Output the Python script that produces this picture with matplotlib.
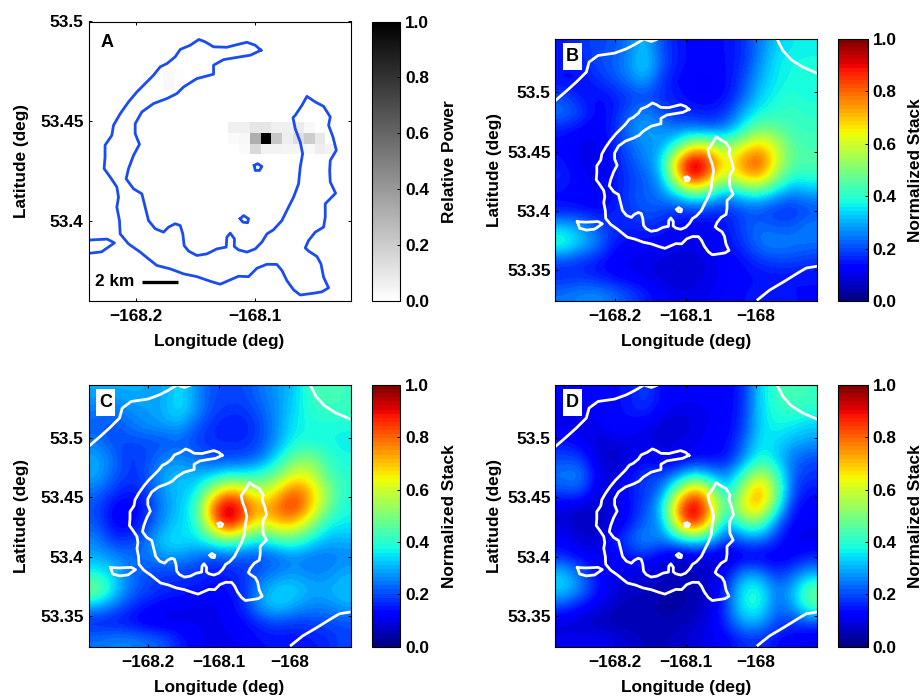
import matplotlib
matplotlib.use("Agg")
import matplotlib.pyplot as plt
from matplotlib.patches import Rectangle
import numpy as np

plt.rcParams['font.family'] = ['Liberation Sans', 'DejaVu Sans']
plt.rcParams['font.weight'] = 'bold'
plt.rcParams['font.size'] = 12.4

# caldera island outline
island_lon = [-168.0952, -168.1000, -168.1070, -168.1140, -168.1238, -168.1350, -168.1420, -168.1473, -168.1546,
              -168.1630, -168.1672, -168.1742, -168.1798, -168.1854, -168.1924, -168.1994, -168.2064, -168.2134,
              -168.2190, -168.2204, -168.2261, -168.2261, -168.2269, -168.2218, -168.2162, -168.2148, -168.2162,
              -168.2140, -168.2134, -168.2064, -168.1966, -168.1896, -168.1826, -168.1714, -168.1602, -168.1490,
              -168.1378, -168.1294, -168.1210, -168.1140, -168.1056, -168.0986, -168.0902, -168.0818, -168.0776,
              -168.0734, -168.0678, -168.0622, -168.0510, -168.0440, -168.0384, -168.0426, -168.0448, -168.0482,
              -168.0552, -168.0580, -168.0552, -168.0496, -168.0426, -168.0412, -168.0412, -168.0325, -168.0370,
              -168.0375, -168.0370, -168.0319, -168.0347, -168.0384, -168.0370, -168.0426, -168.0496, -168.0566,
              -168.0608, -168.0664, -168.0683, -168.0664, -168.0622, -168.0602, -168.0622, -168.0636, -168.0678,
              -168.0734, -168.0776, -168.0846, -168.0902, -168.0944, -168.1000, -168.1070, -168.1140, -168.1176,
              -168.1174, -168.1210, -168.1238, -168.1244, -168.1322, -168.1406, -168.1490, -168.1560, -168.1597,
              -168.1608, -168.1630, -168.1672, -168.1728, -168.1770, -168.1840, -168.1896, -168.1924, -168.1952,
              -168.2022, -168.2084, -168.2064, -168.2022, -168.1972, -168.2008, -168.2008, -168.1952, -168.1854,
              -168.1742, -168.1658, -168.1602, -168.1490, -168.1350, -168.1350, -168.1266, -168.1126, -168.1042,
              -168.0952]
island_lat = [53.4856, 53.4881, 53.4896, 53.4886, 53.4871, 53.4873, 53.4898, 53.4910, 53.4881,
              53.4860, 53.4823, 53.4789, 53.4773, 53.4731, 53.4689, 53.4647, 53.4597, 53.4538,
              53.4480, 53.4430, 53.4380, 53.4321, 53.4263, 53.4221, 53.4171, 53.4120, 53.4070,
              53.4003, 53.3936, 53.3886, 53.3845, 53.3811, 53.3778, 53.3761, 53.3736, 53.3722,
              53.3699, 53.3684, 53.3706, 53.3724, 53.3722, 53.3764, 53.3784, 53.3783, 53.3753,
              53.3702, 53.3656, 53.3630, 53.3639, 53.3646, 53.3666, 53.3719, 53.3786, 53.3823,
              53.3850, 53.3866, 53.3903, 53.3945, 53.3970, 53.4020, 53.4087, 53.4140, 53.4196,
              53.4254, 53.4304, 53.4355, 53.4421, 53.4480, 53.4522, 53.4575, 53.4597, 53.4625,
              53.4580, 53.4530, 53.4518, 53.4463, 53.4396, 53.4338, 53.4271, 53.4187, 53.4120,
              53.4054, 53.4003, 53.3957, 53.3936, 53.3895, 53.3861, 53.3845, 53.3856, 53.3873,
              53.3911, 53.3940, 53.3920, 53.3870, 53.3861, 53.3836, 53.3828, 53.3850, 53.3878,
              53.3936, 53.3978, 53.3987, 53.3970, 53.3945, 53.3962, 53.4003, 53.4070, 53.4137,
              53.4162, 53.4212, 53.4263, 53.4329, 53.4385, 53.4438, 53.4488, 53.4547, 53.4589,
              53.4614, 53.4639, 53.4672, 53.4714, 53.4736, 53.4781, 53.4809, 53.4823, 53.4831,
              53.4856]

# small pieces of coast
vent1_lon = [-168.1008, -168.0980, -168.0944, -168.0964, -168.1000, -168.1008]
vent1_lat = [53.4279, 53.4288, 53.4274, 53.4254, 53.4254, 53.4279]
vent2_lon = [-168.1126, -168.1098, -168.1056, -168.1064, -168.1104, -168.1126]
vent2_lat = [53.4012, 53.4028, 53.4012, 53.3992, 53.3995, 53.4012]
west_lon = [-168.2537, -168.2409, -168.2243, -168.2182, -168.2291, -168.2409, -168.2504, -168.2537]
west_lat = [53.3908, 53.3905, 53.3910, 53.3891, 53.3846, 53.3838, 53.3854, 53.3908]
nw_lon = [-168.2844, -168.2693, -168.2551, -168.2409, -168.2371, -168.2243, -168.2007, -168.1842, -168.1723, -168.1605]
nw_lat = [53.4933, 53.5011, 53.5087, 53.5171, 53.5255, 53.5311, 53.5331, 53.5367, 53.5403, 53.5445]
nbit_lon = [-168.1558, -168.1487, -168.1416]
nbit_lat = [53.5443, 53.5429, 53.5445]
ne_lon = [-167.9690, -167.9619, -167.9501, -167.9336, -167.9147]
ne_lat = [53.5437, 53.5353, 53.5275, 53.5213, 53.5165]
se_lon = [-167.9974, -167.9809, -167.9596, -167.9407, -167.9288, -167.9147]
se_lat = [53.3252, 53.3331, 53.3406, 53.3476, 53.3518, 53.3532]

# panel A cells, top row first
power_a = [
    [.01, .01, .02, .01, 0, 0, 0, 0, 0, 0, 0, 0, 0, 0, 0, 0, 0, 0],
    [0, 0, .03, .01, 0, 0, 0, 0, 0, 0, 0, 0, 0, 0, 0, 0, 0, 0],
    [0, 0, 0, 0, 0, 0, 0, 0, 0, 0, 0, 0, 0, 0, 0, 0, 0, 0],
    [0, 0, 0, 0, 0, 0, 0, 0, 0, 0, 0, 0, 0, 0, 0, 0, 0, 0],
    [0, 0, 0, 0, 0, 0, 0, 0, 0, 0, 0, 0, 0, 0, 0, 0, 0, 0],
    [0, 0, 0, 0, 0, 0, 0, 0, .06, .06, .1, .1, .06, .06, .08, .03, 0, 0],
    [0, 0, 0, 0, 0, 0, 0, 0, .02, .03, .32, 1.0, .22, .07, .13, .2, .09, 0],
    [0, 0, 0, 0, 0, 0, 0, 0, 0, .02, .15, .05, .05, .04, .04, .03, .07, .05],
]

stack_b = [
    [.15, .17, .2, .2, .25, .33, .2, .15, .13, .13, .14, .17, .25, .33, .36, .37],
    [.15, .15, .2, .22, .27, .36, .22, .15, .13, .13, .14, .17, .27, .36, .38, .38],
    [.13, .13, .17, .2, .25, .3, .18, .13, .12, .12, .13, .2, .3, .36, .38, .38],
    [.2, .15, .13, .15, .18, .2, .17, .15, .12, .12, .14, .22, .33, .38, .4, .38],
    [.25, .2, .13, .14, .22, .27, .2, .17, .16, .15, .18, .3, .38, .4, .42, .4],
    [.15, .13, .11, .16, .25, .3, .28, .24, .25, .22, .26, .38, .5, .47, .42, .42],
    [.13, .1, .1, .15, .22, .28, .27, .42, .64, .6, .5, .62, .7, .6, .45, .43],
    [.15, .1, .1, .14, .2, .25, .33, .78, 1.0, .85, .62, .78, .86, .62, .46, .45],
    [.17, .12, .1, .14, .18, .22, .28, .68, .95, .72, .55, .68, .72, .52, .38, .4],
    [.13, .12, .1, .13, .2, .22, .25, .33, .45, .38, .27, .35, .38, .3, .24, .28],
    [.15, .15, .13, .15, .18, .22, .2, .17, .17, .17, .16, .2, .2, .17, .17, .2],
    [.33, .3, .22, .18, .15, .17, .16, .13, .12, .12, .15, .2, .24, .22, .22, .26],
    [.42, .33, .27, .15, .13, .13, .12, .1, .1, .12, .14, .18, .25, .26, .25, .24],
    [.2, .18, .15, .12, .1, .1, .09, .08, .08, .1, .12, .14, .18, .2, .2, .18],
    [.16, .17, .15, .13, .11, .1, .08, .07, .08, .1, .12, .13, .14, .14, .14, .14],
    [.24, .26, .27, .24, .2, .16, .12, .1, .1, .11, .13, .14, .15, .15, .14, .14],
]

stack_c = [
    [.3, .3, .3, .3, .28, .36, .28, .2, .2, .2, .24, .28, .32, .42, .44, .42],
    [.25, .24, .27, .28, .3, .36, .28, .2, .18, .18, .22, .27, .34, .4, .42, .42],
    [.22, .2, .24, .27, .28, .3, .22, .17, .15, .15, .2, .27, .36, .38, .38, .38],
    [.25, .2, .2, .2, .2, .22, .19, .17, .17, .17, .2, .28, .38, .38, .38, .36],
    [.3, .24, .17, .2, .25, .27, .24, .2, .2, .2, .24, .36, .48, .52, .42, .38],
    [.3, .22, .18, .2, .3, .32, .3, .32, .38, .38, .42, .48, .62, .62, .45, .4],
    [.24, .18, .15, .18, .28, .32, .34, .58, .75, .68, .55, .68, .82, .72, .55, .4],
    [.2, .12, .1, .16, .26, .32, .4, .8, 1.0, .85, .72, .8, .88, .72, .5, .38],
    [.22, .12, .12, .18, .28, .34, .36, .7, .95, .75, .6, .7, .7, .55, .38, .36],
    [.26, .18, .18, .24, .34, .36, .34, .4, .48, .4, .35, .42, .44, .36, .3, .3],
    [.3, .27, .24, .24, .28, .28, .24, .2, .22, .2, .2, .22, .26, .24, .24, .26],
    [.38, .33, .24, .2, .18, .18, .18, .15, .15, .18, .22, .26, .28, .26, .26, .3],
    [.52, .36, .24, .2, .17, .16, .15, .13, .14, .18, .28, .34, .34, .3, .3, .32],
    [.3, .24, .18, .14, .12, .11, .1, .1, .12, .17, .3, .34, .3, .26, .26, .3],
    [.15, .14, .13, .1, .09, .1, .11, .1, .12, .13, .17, .2, .18, .19, .2, .2],
    [.24, .26, .26, .24, .22, .16, .12, .1, .1, .12, .14, .14, .14, .15, .16, .2],
]

stack_d = [
    [.12, .12, .13, .14, .14, .2, .13, .12, .12, .12, .12, .16, .34, .42, .44, .42],
    [.1, .1, .12, .13, .15, .18, .12, .1, .1, .11, .12, .17, .34, .4, .42, .4],
    [.1, .09, .1, .13, .13, .1, .08, .07, .1, .11, .12, .18, .34, .38, .36, .33],
    [.15, .12, .08, .08, .1, .1, .08, .1, .1, .12, .13, .22, .36, .34, .3, .28],
    [.2, .2, .09, .06, .08, .13, .1, .1, .13, .13, .14, .26, .4, .34, .24, .2],
    [.25, .27, .13, .08, .13, .2, .18, .26, .38, .3, .25, .42, .6, .45, .22, .18],
    [.2, .22, .1, .07, .15, .18, .24, .55, .8, .6, .32, .58, .78, .52, .2, .14],
    [.09, .07, .07, .08, .13, .2, .32, .8, 1.0, .75, .4, .65, .72, .42, .15, .12],
    [.09, .06, .06, .09, .14, .24, .26, .68, .92, .62, .27, .45, .47, .24, .12, .11],
    [.12, .08, .08, .14, .22, .28, .24, .3, .36, .3, .17, .22, .24, .17, .1, .1],
    [.17, .13, .1, .12, .13, .17, .1, .06, .08, .08, .07, .1, .1, .1, .12, .16],
    [.33, .24, .14, .11, .09, .09, .07, .06, .06, .07, .14, .28, .27, .17, .22, .3],
    [.34, .27, .16, .09, .07, .07, .05, .04, .05, .08, .18, .38, .4, .24, .3, .48],
    [.2, .14, .1, .07, .05, .05, .04, .04, .05, .08, .2, .38, .4, .22, .28, .45],
    [.08, .07, .06, .05, .04, .05, .05, .05, .07, .1, .18, .3, .3, .2, .18, .2],
    [.1, .11, .11, .1, .08, .06, .06, .07, .09, .1, .12, .17, .17, .14, .11, .1],
]

lon_ticks = [-168.2, -168.1, -168.0]
lon_labels = ['\u2212168.2', '\u2212168.1', '\u2212168']
lat_ticks = [53.35, 53.4, 53.45, 53.5]
lat_labels = ['53.35', '53.4', '53.45', '53.5']
cbar_ticks = [0, .2, .4, .6, .8, 1.0]

W, H = 922, 696
LIM_A = (-168.24, -168.02, 53.36, 53.5)
LIM_MAP = (-168.285, -167.913, 53.324, 53.545)


def box(x0, y0, x1, y1):
    # pixel box from the top left corner to figure fractions
    return [x0 / W, 1 - y1 / H, (x1 - x0) / W, (y1 - y0) / H]


def draw_coast(ax, color):
    pieces = [(island_lon, island_lat), (vent1_lon, vent1_lat), (vent2_lon, vent2_lat),
              (west_lon, west_lat), (nw_lon, nw_lat), (nbit_lon, nbit_lat),
              (ne_lon, ne_lat), (se_lon, se_lat)]
    for lon, lat in pieces:
        ax.plot(lon, lat, color=color, lw=2.0, solid_joinstyle='round')


def finish_axes(ax, lim, xlab_x, ylab_y):
    ax.set_xlim(lim[0], lim[1])
    ax.set_ylim(lim[2], lim[3])
    ax.set_aspect('auto')
    ticks = [t for t in lon_ticks if lim[0] < t < lim[1]]
    ax.set_xticks(ticks)
    ax.set_xticklabels(lon_labels[:len(ticks)])
    keep = [i for i, t in enumerate(lat_ticks) if lim[2] < t <= lim[3]]
    ax.set_yticks([lat_ticks[i] for i in keep])
    ax.set_yticklabels([lat_labels[i] for i in keep])
    ax.tick_params(direction='in', length=2.5, width=0.7, top=True, right=True)
    ax.tick_params(axis='x', pad=6)
    ax.tick_params(axis='y', pad=3.5)
    ax.set_xlabel('Longitude (deg)', fontweight='bold')
    ax.set_ylabel('Latitude (deg)', fontweight='bold')
    ax.xaxis.set_label_coords(0.5, xlab_x)
    ax.yaxis.set_label_coords(ylab_y, 0.5)
    for s in ax.spines.values():
        s.set_linewidth(0.8)


def finish_cbar(fig, im, cax, label, lab_x):
    cb = fig.colorbar(im, cax=cax, ticks=cbar_ticks)
    cb.ax.set_yticklabels(['%.1f' % t for t in cbar_ticks])
    cb.ax.tick_params(direction='in', length=2.5, width=0.7, pad=3.5)
    cb.outline.set_linewidth(0.8)
    cb.set_label(label, fontweight='bold', rotation=90, va='center')
    cb.ax.yaxis.set_label_coords(lab_x, 0.5)


fig = plt.figure(figsize=(W / 100, H / 100), dpi=100)

# panel A
ax = fig.add_axes(box(88.5, 21.5, 350.5, 301))
lon_edges = np.linspace(-168.1952, -168.0320, 19)
lat_edges = np.linspace(53.4764, 53.4334, 9)
mesh = ax.pcolormesh(lon_edges, lat_edges, np.array(power_a), cmap='gray_r', vmin=0, vmax=1)
draw_coast(ax, '#1a4cf0')
ax.plot([-168.1947, -168.1648], [53.3696, 53.3696], color='k', lw=2.4, solid_capstyle='butt')
ax.text(-168.2347, 53.3696, '2 km', ha='left', va='center')
ax.text(-168.2295, 53.4895, 'A', ha='left', va='center', fontsize=13)
finish_axes(ax, LIM_A, -0.118, -0.226)
cax = fig.add_axes(box(371.7, 21.5, 400.3, 301))
finish_cbar(fig, mesh, cax, 'Relative Power', 2.73)

# panels B, C, D
panels = [
    ('B', stack_b, (555.3, 39, 817.3, 301), (838.3, 867.7), -0.204, 2.64),
    ('C', stack_c, (88.5, 385, 350.5, 646.7), (371.7, 400.3), -0.226, 2.73),
    ('D', stack_d, (555.3, 385, 817.3, 646.7), (838.3, 867.7), -0.204, 2.64),
]
jet = plt.get_cmap('jet', 64)
for name, stack, pos, cpos, ylab, clab in panels:
    ax = fig.add_axes(box(*pos))
    im = ax.imshow(np.array(stack), extent=LIM_MAP, origin='upper', cmap=jet, vmin=0, vmax=1,
                   interpolation='bicubic', aspect='auto')
    draw_coast(ax, 'white')
    ax.add_patch(Rectangle((0.0294, 0.8817), 0.0725, 0.103, transform=ax.transAxes,
                           facecolor='white', edgecolor='none', zorder=5))
    ax.text(0.0656, 0.933, name, transform=ax.transAxes, ha='center', va='center', fontsize=13, zorder=6)
    finish_axes(ax, LIM_MAP, -0.126, ylab)
    cax = fig.add_axes(box(cpos[0], pos[1], cpos[1], pos[3]))
    finish_cbar(fig, im, cax, 'Normalized Stack', clab)

fig.savefig('out.png', dpi=100)
